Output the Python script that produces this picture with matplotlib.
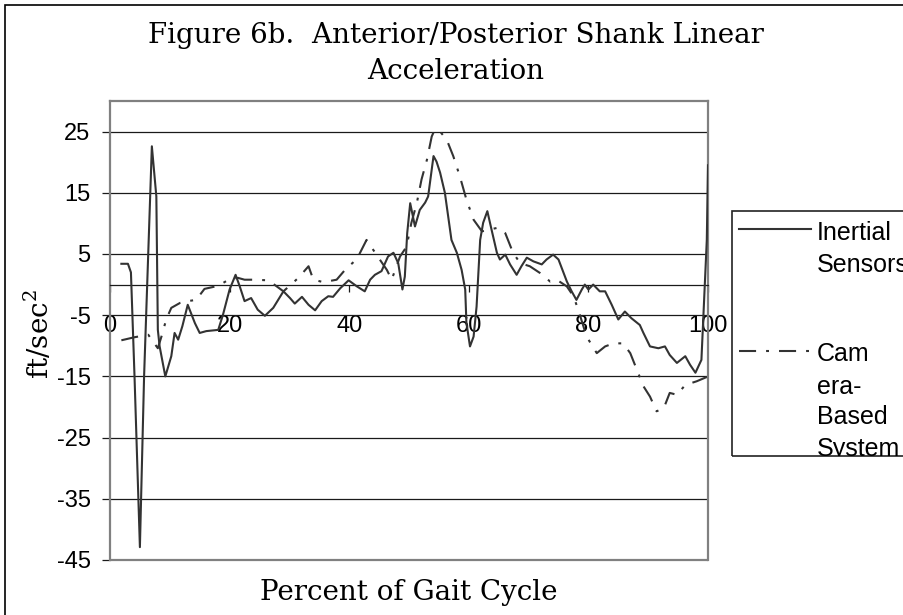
import matplotlib
matplotlib.use("Agg")
import matplotlib.pyplot as plt
from matplotlib.patches import Rectangle
from matplotlib.lines import Line2D

plt.rcParams['font.family'] = ['Liberation Sans', 'DejaVu Sans']
plt.rcParams['mathtext.fontset'] = 'dejavuserif'
plt.rcParams['axes.unicode_minus'] = False

# --- data (percent of gait cycle, ft/sec^2) ---
inertial_x = [1.9, 3.0, 3.5, 4.1, 5.0, 5.7, 7.0, 7.75, 8.0, 8.3, 9.25, 10.25, 10.8,
              11.4, 12.1, 13.0, 14.2, 15.0, 16.1, 18.1, 18.9, 20.0, 21.0, 21.7,
              22.5, 23.6, 24.7, 25.9, 27.3, 29.0, 30.1, 30.9, 32.1, 33.2, 34.3,
              35.4, 36.5, 37.3, 38.5, 39.9, 41.3, 42.6, 43.5, 44.3, 45.4, 46.5,
              47.4, 48.2, 48.9, 49.3, 49.7, 50.2, 51.0, 51.8, 52.7, 53.2, 54.1,
              54.6, 55.2, 56.0, 57.1, 58.0, 58.8, 59.4, 59.6, 60.2, 60.8, 61.3,
              61.9, 62.4, 63.1, 63.8, 64.7, 65.2, 66.1, 66.9, 68.0, 68.8, 69.7,
              70.8, 72.2, 73.0, 74.1, 75.0, 76.4, 77.2, 78.0, 78.9, 79.4, 80.0,
              80.8, 81.9, 82.8, 83.9, 85.0, 86.1, 87.2, 88.6, 89.2, 90.3, 91.7,
              92.8, 93.6, 94.8, 96.2, 97.0, 97.9, 98.9, 99.3, 99.8, 100.0]
inertial_y = [3.4, 3.4, 2.0, -15.0, -42.9, -15.0, 22.6, 14.4, -7.4, -10.1, -15.0, -11.7, -7.9,
              -9.0, -6.8, -3.3, -6.3, -7.9, -7.6, -7.4, -4.9, -0.8, 1.6, -0.3,
              -2.7, -2.2, -4.1, -5.1, -3.8, -1.1, -2.2, -3.1, -2.0, -3.3, -4.2,
              -2.7, -1.9, -2.0, -0.6, 0.7, -0.3, -1.1, 0.8, 1.6, 2.2, 4.6,
              5.2, 3.5, -0.8, 1.3, 8.4, 13.3, 9.5, 12.2, 13.4, 14.4, 21.0,
              20.1, 18.3, 15.0, 7.3, 5.2, 2.4, -0.8, -6.2, -10.1, -8.5, -3.6,
              7.3, 10.1, 12.0, 9.0, 5.2, 4.1, 4.9, 3.3, 1.6, 3.0, 4.4,
              3.8, 3.3, 4.1, 4.9, 4.1, 0.5, -1.1, -2.5, -0.8, 0.0, -0.8,
              0.0, -1.1, -1.1, -3.3, -5.7, -4.4, -5.5, -6.6, -7.9, -10.1, -10.4,
              -10.1, -11.5, -12.8, -11.7, -13.1, -14.4, -12.3, -3.6, 7.3, 19.5]

camera_x = [1.9, 4.1, 6.4, 8.0, 8.6, 9.4, 10.25, 11.7, 13.0, 14.4, 15.8, 18.1, 20.0,
            21.4, 22.5, 24.0, 26.5, 29.0, 31.5, 33.2, 34.0, 35.7, 37.9, 39.3, 41.3,
            42.9, 44.9, 46.3, 47.1, 48.5, 49.6, 50.4, 51.3, 52.1, 53.0, 53.8, 54.3,
            55.2, 56.3, 57.4, 58.5, 59.6, 60.8, 62.2, 63.5, 64.9, 66.1, 67.4, 68.6,
            70.2, 71.9, 73.6, 74.7, 76.4, 77.5, 78.3, 79.7, 81.4, 82.8, 84.2, 85.8,
            87.0, 88.1, 89.2, 90.3, 91.4, 92.6, 93.6, 94.8, 96.2, 98.1, 99.8]
camera_y = [-9.1, -8.6, -8.2, -10.4, -8.5, -5.7, -3.8, -3.0, -2.7, -2.5, -0.7, -0.2, 0.9,
            1.1, 0.8, 0.8, 0.7, -1.1, 1.1, 3.0, 0.8, 0.4, 0.8, 2.4, 4.2,
            7.3, 4.4, 2.4, 0.8, 4.6, 6.2, 10.1, 13.3, 17.2, 20.4, 24.2, 25.3,
            25.0, 23.7, 21.0, 17.7, 13.9, 10.6, 8.7, 9.0, 9.3, 8.4, 5.2, 3.5,
            3.0, 1.9, 0.5, 0.8, -0.3, -1.9, -4.1, -8.5, -11.2, -10.1, -9.6, -9.6,
            -11.2, -13.9, -16.6, -18.3, -20.7, -20.2, -17.7, -18.0, -16.4, -15.8, -15.1]

x_ticks = [0, 20, 40, 60, 80, 100]
y_ticks = [-45, -35, -25, -15, -5, 5, 15, 25]
legend_lines = [["Inertial", "Sensors"], ["Cam", "era-", "Based", "System"]]

W, H = 904, 615
def fx(px):
    return px / W
def fy(py):
    return 1 - py / H

fig = plt.figure(figsize=(W / 100, H / 100), dpi=100)

# outer chart border (right/bottom fall off the picture)
fig.add_artist(Rectangle((fx(5), fy(625)), fx(915) - fx(5), fy(5) - fy(625),
                         transform=fig.transFigure, fill=False, edgecolor='black', lw=1.2))

ax = fig.add_axes([fx(110), fy(560), fx(708) - fx(110), fy(101) - fy(560)])

line_col = '#333333'
dashdot = (0, (8.2, 4.8, 1.4, 4.8))
ax.plot(inertial_x, inertial_y, color=line_col, lw=1.5, solid_joinstyle='round', zorder=3)
ax.plot(camera_x, camera_y, color=line_col, lw=1.5, linestyle=dashdot, zorder=3)

ax.set_xlim(0, 100)
ax.set_ylim(-45, 30)
ax.set_xticks(x_ticks)
ax.set_yticks(y_ticks)
ax.yaxis.grid(True, color='#1a1a1a', lw=0.9)
ax.set_axisbelow(True)

for s in ['top', 'left', 'right']:
    ax.spines[s].set_color('#808080')
    ax.spines[s].set_linewidth(1.6)
ax.spines['bottom'].set_position(('data', 0))
ax.spines['bottom'].set_color('#1a1a1a')
ax.spines['bottom'].set_linewidth(0.9)
ax.add_patch(Rectangle((0, 0), 1, 0.001, transform=ax.transAxes, fill=False,
                       edgecolor='#808080', lw=1.6, clip_on=False))

ax.tick_params(axis='x', direction='out', length=5, width=0.9, pad=17,
               labelsize=17, color='#1a1a1a')
ax.tick_params(axis='y', direction='out', length=6, width=0.9, pad=8,
               labelsize=17, color='#1a1a1a')

serif = ['DejaVu Serif']
fig.text(fx(456), fy(22), "Figure 6b.  Anterior/Posterior Shank Linear\nAcceleration",
         ha='center', va='top', family=serif, size=20, linespacing=1.42)
fig.text(fx(409), fy(600), "Percent of Gait Cycle", ha='center', va='baseline',
         family=serif, size=20)
fig.text(fx(39), fy(334), "ft/sec$^2$", ha='center', va='center', rotation=90,
         family=serif, size=20)

# legend box, drawn by hand so the wrapped labels sit like the original
leg_box = Rectangle((fx(732), fy(456)), fx(915) - fx(732), fy(211) - fy(456),
                    transform=fig.transFigure, fill=False, edgecolor='#222222', lw=1.2)
fig.add_artist(leg_box)
fig.add_artist(Line2D([fx(739), fx(811)], [fy(229), fy(229)], transform=fig.transFigure,
                      color=line_col, lw=1.5))
fig.add_artist(Line2D([fx(739), fx(811)], [fy(351), fy(351)], transform=fig.transFigure,
                      color=line_col, lw=1.5, linestyle=dashdot))
baselines = [[240, 272], [361, 394, 424, 456]]
for words, ys in zip(legend_lines, baselines):
    for w, yb in zip(words, ys):
        t = fig.text(fx(817), fy(yb), w, ha='left', va='baseline', size=18)
        t.set_clip_path(leg_box)

fig.savefig('out.png', dpi=100)
